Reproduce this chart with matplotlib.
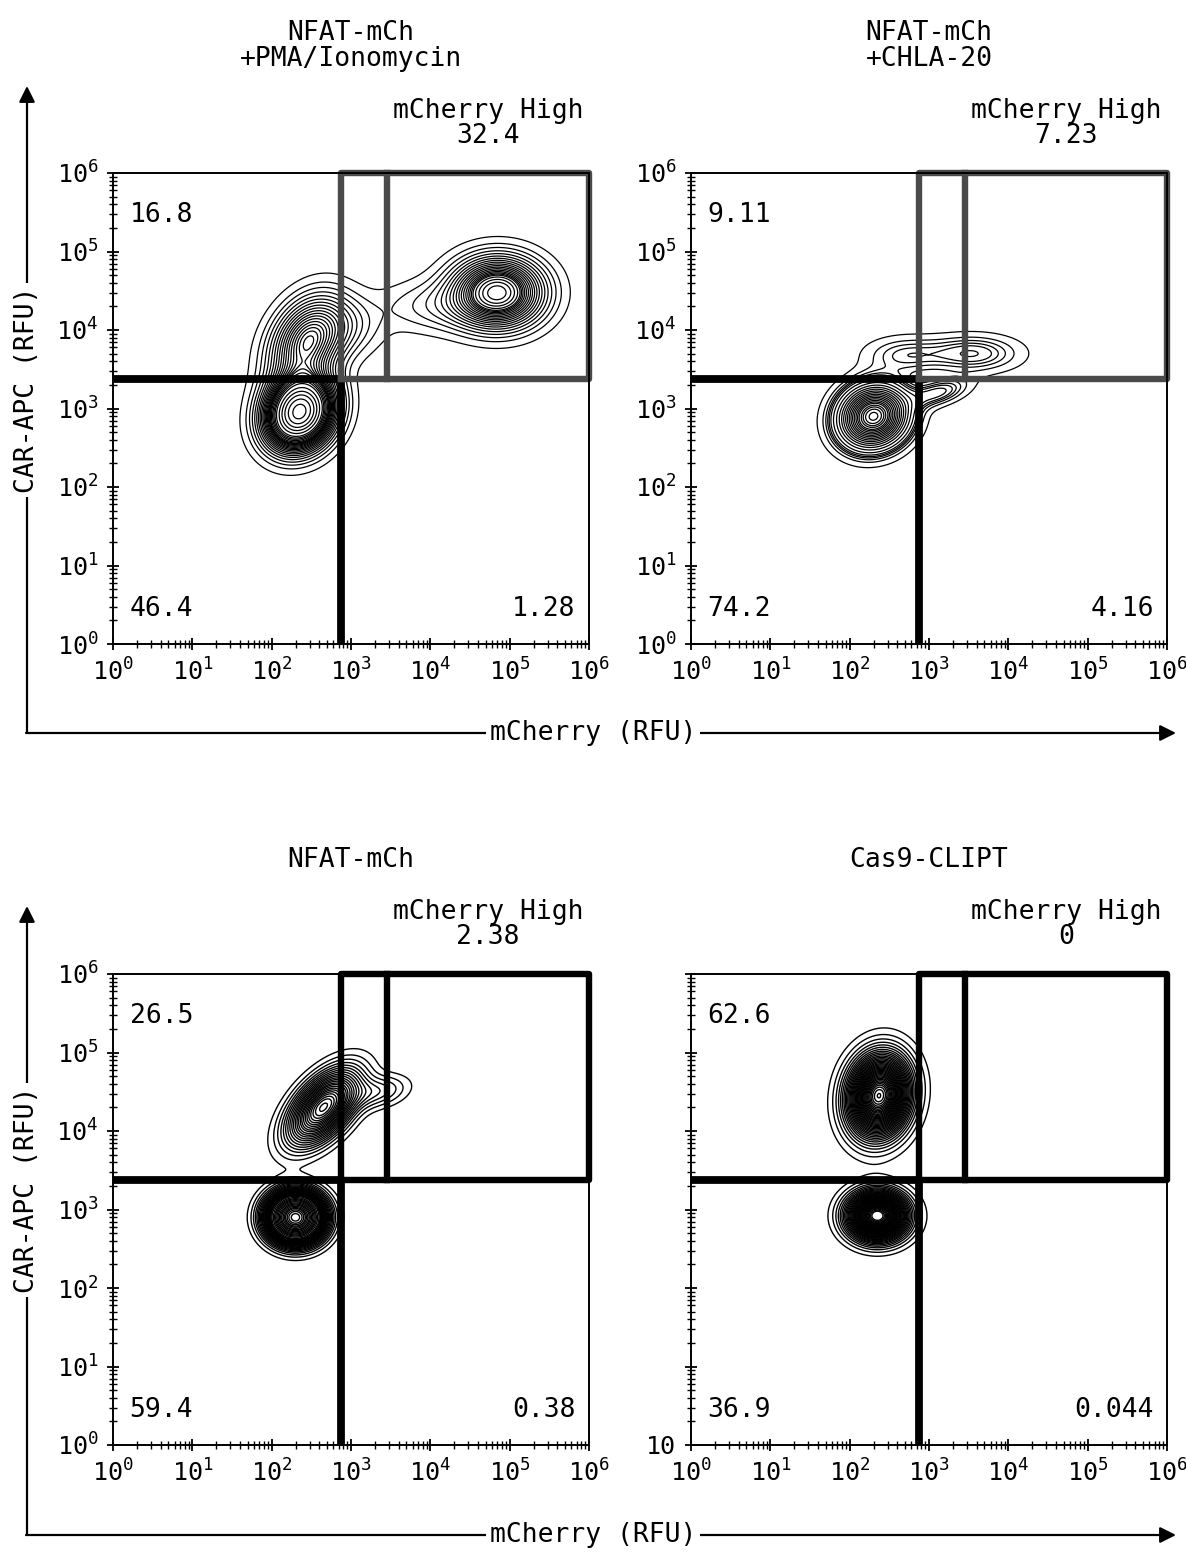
import numpy as np
import matplotlib
matplotlib.use('Agg')
import matplotlib.pyplot as plt
import matplotlib.transforms as mtransforms
from matplotlib.ticker import FixedLocator, LogLocator, NullFormatter

plt.rcParams['font.family'] = 'DejaVu Sans Mono'
plt.rcParams['mathtext.fontset'] = 'custom'
plt.rcParams['mathtext.rm'] = 'DejaVu Sans Mono'
plt.rcParams['mathtext.it'] = 'DejaVu Sans Mono'
plt.rcParams['mathtext.bf'] = 'DejaVu Sans Mono'

#%% panel texts
titles = ['NFAT-mCh\n+PMA/Ionomycin', 'NFAT-mCh\n+CHLA-20', 'NFAT-mCh', 'Cas9-CLIPT']
pct_high = ['32.4', '7.23', '2.38', '0']
pct_ul = ['16.8', '9.11', '26.5', '62.6']
pct_ll = ['46.4', '74.2', '59.4', '36.9']
pct_lr = ['1.28', '4.16', '0.38', '0.044']
decades = [0, 1, 2, 3, 4, 5, 6]

# gates (RFU)
quad_x = 10**2.88
quad_y = 10**3.37
high_x = 10**3.45

# populations: log10 mCherry, log10 CAR-APC, sd x, sd y, corr, fraction
pops_pma = [(2.35, 2.95, 0.27, 0.29, 0.15, 0.42),
            (2.45, 3.85, 0.30, 0.36, 0.30, 0.22),
            (2.95, 4.05, 0.30, 0.25, 0.00, 0.03),
            (4.05, 4.30, 0.45, 0.22, 0.00, 0.04),
            (4.85, 4.48, 0.36, 0.28, 0.00, 0.30)]
pops_chla = [(2.30, 2.90, 0.25, 0.23, 0.10, 0.80),
             (2.70, 3.68, 0.33, 0.15, 0.00, 0.05),
             (3.55, 3.70, 0.38, 0.15, 0.00, 0.08),
             (3.10, 3.20, 0.25, 0.12, 0.50, 0.04)]
pops_nfat = [(2.30, 2.90, 0.21, 0.19, 0.00, 0.60),
             (2.65, 4.30, 0.28, 0.30, 0.55, 0.36),
             (3.35, 4.50, 0.25, 0.14, 0.30, 0.03)]
pops_cas9 = [(2.37, 4.45, 0.24, 0.32, 0.10, 0.62),
             (2.35, 2.92, 0.23, 0.19, 0.00, 0.37)]
populations = [pops_pma, pops_chla, pops_nfat, pops_cas9]

#%% layout in pixels
W, H = 1186, 1554
lefts = [113, 691, 113, 691]
tops = [173, 173, 974, 974]
pw, ph = 476, 471
box_color = ['#4a4a4a', '#4a4a4a', 'k', 'k']
n_levels = [28, 24, 38, 38]
c_lw = [0.9, 0.9, 1.0, 1.0]

gx = np.linspace(0, 6, 361)
GX, GY = np.meshgrid(gx, gx)


def density(pops):
    z = np.zeros_like(GX)
    for mx, my, sx, sy, r, w in pops:
        dx = (GX - mx) / sx
        dy = (GY - my) / sy
        q = (dx**2 - 2*r*dx*dy + dy**2) / (1 - r**2)
        z += w * np.exp(-0.5*q) / (sx*sy*np.sqrt(1 - r**2))
    return z


def mass_levels(z, n):
    # probability contours: each level encloses a fixed share of the events
    flat = np.sort(z.ravel())[::-1]
    cum = np.cumsum(flat)
    cum /= cum[-1]
    fr = np.linspace(0.02, 0.975, n)
    lv = flat[np.searchsorted(cum, fr)]
    return np.unique(lv)


fig = plt.figure(figsize=(W/100, H/100), dpi=100)

# outer axis arrows shared by each row
frame = fig.add_axes([0, 0, 1, 1])
frame.set_xlim(0, W)
frame.set_ylim(H, 0)
frame.axis('off')
frame.patch.set_alpha(0)
arw = dict(arrowstyle='-|>', color='k', lw=1.6, shrinkA=0, shrinkB=0,
           mutation_scale=24)
for yb, yt, ylab in [(733, 86, 390), (1535, 906, 1190)]:
    frame.annotate('', xy=(27, yt), xytext=(27, yb), arrowprops=arw)
    frame.annotate('', xy=(1176, yb), xytext=(26, yb), arrowprops=arw)
    frame.text(27, ylab, 'CAR-APC (RFU)', rotation=90, ha='center',
               va='center', fontsize=19,
               bbox=dict(fc='white', ec='none', pad=3))
    frame.text(593, yb, 'mCherry (RFU)', ha='center', va='center',
               fontsize=19, bbox=dict(fc='white', ec='none', pad=3))

for i in range(4):
    ax = fig.add_axes([lefts[i]/W, 1 - (tops[i] + ph)/H, pw/W, ph/H])
    ax.set_xscale('log')
    ax.set_yscale('log')

    z = density(populations[i])
    ax.contour(10**GX, 10**GY, z, levels=mass_levels(z, n_levels[i]),
               colors='k', linewidths=c_lw[i])

    ax.set_xlim(1, 1e6)
    ax.set_ylim(1, 1e6)

    # quadrant gate
    glw = 4.6
    ax.plot([quad_x, quad_x], [1, quad_y], color='k', lw=glw + 1,
            solid_capstyle='butt', clip_on=False)
    ax.plot([1, quad_x], [quad_y, quad_y], color='k', lw=glw + 1,
            solid_capstyle='butt', clip_on=False)
    bc = box_color[i]
    ax.plot([quad_x, quad_x, 1e6, 1e6, quad_x], [quad_y, 1e6, 1e6, quad_y, quad_y],
            color=bc, lw=glw, clip_on=False)
    ax.plot([high_x, high_x], [quad_y, 1e6], color=bc, lw=glw, clip_on=False)

    # ticks
    ticks = [10.0**k for k in decades]
    for axis in (ax.xaxis, ax.yaxis):
        axis.set_major_locator(FixedLocator(ticks))
        axis.set_minor_locator(LogLocator(base=10, subs=np.arange(2, 10)))
        axis.set_minor_formatter(NullFormatter())
    labels = [r'$\mathregular{10^{%d}}$' % k for k in decades]
    ax.set_xticklabels(labels)
    if i == 3:
        ax.set_yticklabels(['10'] + [''] * 6)
    else:
        ax.set_yticklabels(labels)
    ax.tick_params(which='major', direction='inout', length=9, width=1.3,
                   labelsize=18, pad=6)
    ax.tick_params(which='minor', direction='inout', length=6, width=1.0)
    for sp in ax.spines.values():
        sp.set_linewidth(1.4)

    # quadrant frequencies
    ax.text(0.035, 0.91, pct_ul[i], transform=ax.transAxes, fontsize=19,
            ha='left', va='center')
    ax.text(0.035, 0.075, pct_ll[i], transform=ax.transAxes, fontsize=19,
            ha='left', va='center')
    ax.text(0.972, 0.075, pct_lr[i], transform=ax.transAxes, fontsize=19,
            ha='right', va='center')
    trans = mtransforms.blended_transform_factory(ax.transData, ax.transAxes)
    ax.text(np.sqrt(high_x * 1e6), 1.05, 'mCherry High\n' + pct_high[i],
            transform=trans, fontsize=19, ha='center', va='bottom',
            multialignment='center', linespacing=0.95)
    ax.text(0.5, 1.215, titles[i], transform=ax.transAxes, fontsize=19,
            ha='center', va='bottom', multialignment='center', linespacing=1.0)

fig.savefig('out.png', dpi=100)
